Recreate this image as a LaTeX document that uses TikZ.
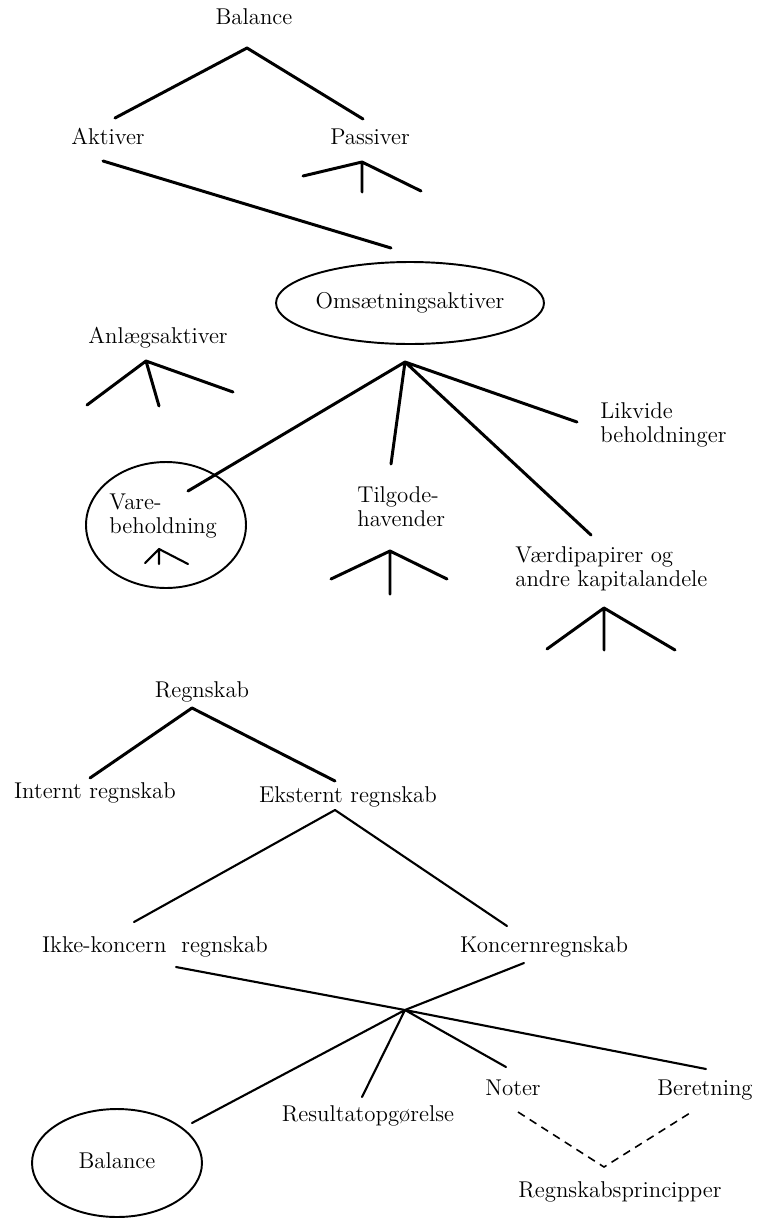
\documentclass[tikz,border=0pt]{standalone}
\usepackage{tikz}

\tikzset{
  lbl/.style={inner sep=0pt, font=\fontsize{13}{13.7}\selectfont, text height=0.68em, text depth=0pt},
  mlbl/.style={inner sep=0pt, font=\fontsize{13}{13.7}\selectfont, align=left, anchor=west},
  oval/.style={line width=1.1pt},
  branch/.style={line width=1.7pt, line cap=round, line join=round},
  thinbranch/.style={line width=1.2pt, line cap=round, line join=round},
  link/.style={line width=0.9pt, dash pattern=on 4.5pt off 3.4pt}
}

\begin{document}
\begin{tikzpicture}[x=0.02cm,y=-0.02cm]
\useasboundingbox (0,0) rectangle (762,1218);
% Draw the top of the balance tree
\node[lbl] (balance) at (254,19) {Balance};
\node[lbl] (aktiver) at (108,139) {Aktiver};
\node[lbl] (passiver) at (370,139) {Passiver};
\coordinate (balTop) at (247,48);
\coordinate (balL) at (115,118);
\coordinate (balR) at (363,119);
\draw[branch] (balL) -- (balTop) -- (balR);
\coordinate (pasTop) at (362,162);
\coordinate (pasL) at (303,176);
\coordinate (pasM) at (362,192);
\coordinate (pasR) at (421,191);
\draw[branch] (pasL) -- (pasTop) -- (pasR) (pasTop) -- (pasM);
% Draw the omsaetningsaktiver ellipse
\node[lbl] (oms) at (410,303) {Omsætningsaktiver};
\draw[oval] (oms) ellipse [x radius=2.68cm, y radius=0.82cm];
\coordinate (aktOut) at (103,161);
\coordinate (omsIn) at (391,248);
\draw[branch] (aktOut) -- (omsIn);
% Draw the anlaegsaktiver fork
\node[lbl] (anlaeg) at (158,338) {Anlægsaktiver};
\coordinate (anlTop) at (146,361);
\coordinate (anlL) at (87,405);
\coordinate (anlM) at (159,406);
\coordinate (anlR) at (233,392);
\draw[branch] (anlL) -- (anlTop) -- (anlR) (anlTop) -- (anlM);
% Draw the four branches under omsaetningsaktiver
\coordinate (omsTop) at (405,362);
\coordinate (vareIn) at (188,491);
\coordinate (tilIn) at (391,464);
\coordinate (vaerIn) at (591,535);
\coordinate (likIn) at (577,422);
\draw[branch] (omsTop) -- (vareIn) (omsTop) -- (tilIn) (omsTop) -- (vaerIn) (omsTop) -- (likIn);
\node[mlbl] (likvide) at (600,425) {Likvide\\beholdninger};
\node[mlbl] (tilgode) at (357,507) {Tilgode-\\havender};
\node[mlbl] (vaerdi) at (515,569) {Værdipapirer og\\andre kapitalandele};
\coordinate (varering) at (166,525);
\draw[oval] (varering) ellipse [x radius=1.6cm, y radius=1.26cm];
\node[mlbl] (vare) at (109,516) {Vare-\\beholdning};
% Draw the small forks under each leaf
\coordinate (vareTop) at (159,549);
\coordinate (vareL) at (145,563);
\coordinate (vareM) at (159,564);
\coordinate (vareR) at (188,564);
\draw[thinbranch] (vareL) -- (vareTop) -- (vareR) (vareTop) -- (vareM);
\coordinate (tilTop) at (390,551);
\coordinate (tilL) at (331,579);
\coordinate (tilM) at (390,594);
\coordinate (tilR) at (447,579);
\draw[branch] (tilL) -- (tilTop) -- (tilR) (tilTop) -- (tilM);
\coordinate (vaeTop) at (604,608);
\coordinate (vaeL) at (547,649);
\coordinate (vaeM) at (604,650);
\coordinate (vaeR) at (675,650);
\draw[branch] (vaeL) -- (vaeTop) -- (vaeR) (vaeTop) -- (vaeM);
% Draw the regnskab tree
\node[lbl] (regnskab) at (202,692) {Regnskab};
\node[lbl] (internt) at (95,793) {Internt regnskab};
\node[lbl] (eksternt) at (348,797) {Eksternt regnskab};
\coordinate (regTop) at (192,708);
\coordinate (regL) at (90,778);
\coordinate (regR) at (335,781);
\draw[branch] (regL) -- (regTop) -- (regR);
\coordinate (eksTop) at (335,810);
\coordinate (eksL) at (134,922);
\coordinate (eksR) at (507,926);
\draw[thinbranch] (eksL) -- (eksTop) -- (eksR);
\node[lbl] (ikke) at (155,947) {Ikke-koncern\ \ regnskab};
\node[lbl] (koncern) at (544,947) {Koncernregnskab};
% Draw the junction and the parts of the report
\coordinate (ikkeOut) at (176,967);
\coordinate (koncOut) at (524,963);
\coordinate (junction) at (405,1010);
\draw[thinbranch] (ikkeOut) -- (junction) -- (koncOut);
\coordinate (balIn) at (192,1123);
\coordinate (resIn) at (362,1097);
\coordinate (notIn) at (506,1067);
\coordinate (berIn) at (706,1069);
\draw[thinbranch] (junction) -- (balIn) (junction) -- (resIn) (junction) -- (notIn) (junction) -- (berIn);
\node[lbl] (resultat) at (368,1116) {Resultatopgørelse};
\node[lbl] (noter) at (513,1090) {Noter};
\node[lbl] (beretning) at (705,1090) {Beretning};
\node[lbl] (balance2) at (117,1163) {Balance};
\draw[oval] (balance2) ellipse [x radius=1.7cm, y radius=1.08cm];
% Draw the dashed link to regnskabsprincipper
\coordinate (notOut) at (518,1112);
\coordinate (prinTop) at (604,1167);
\coordinate (berOut) at (690,1113);
\draw[link] (notOut) -- (prinTop) -- (berOut);
\node[lbl] (principper) at (620,1192) {Regnskabsprincipper};
\end{tikzpicture}
\end{document}
